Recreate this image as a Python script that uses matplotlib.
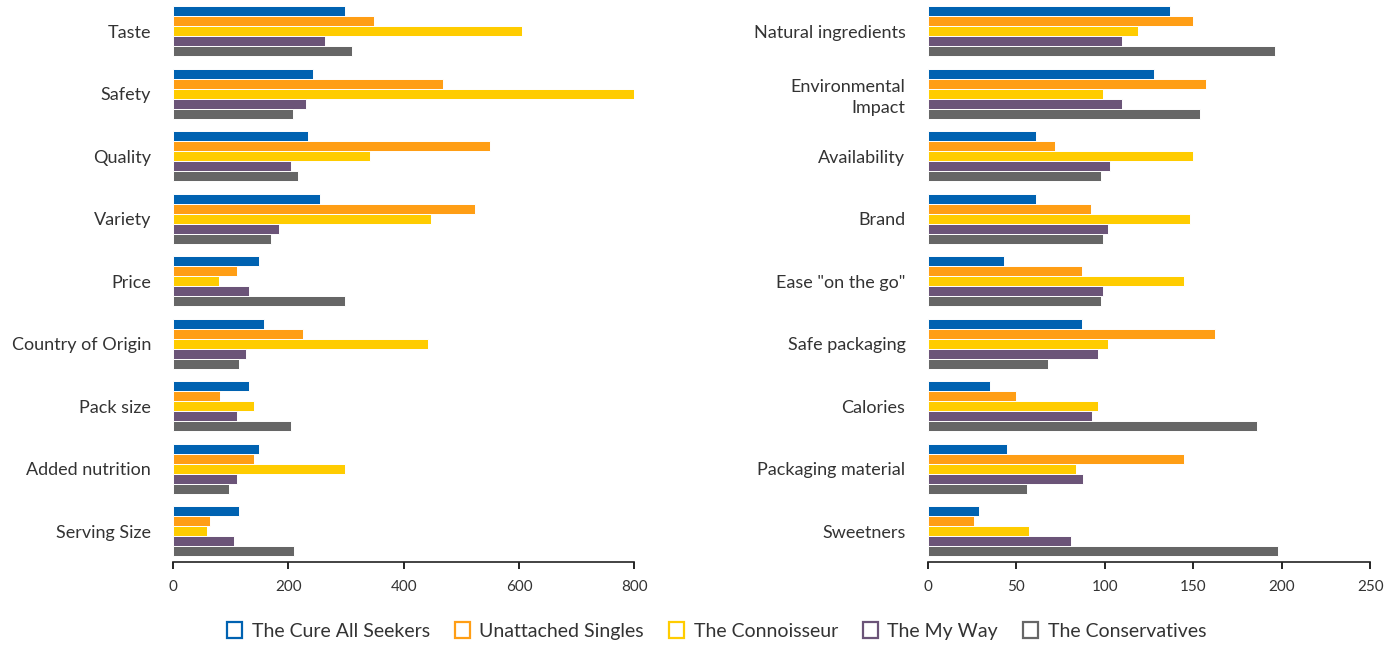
import matplotlib

matplotlib.use("Agg")
import matplotlib.pyplot as plt
import numpy as np
from matplotlib.patches import Patch

plt.rcParams["font.family"] = ["Lato", "DejaVu Sans"]

SERIES = ["The Cure All Seekers", "Unattached Singles", "The Connoisseur", "The My Way", "The Conservatives"]
COLORS = ["#0062B1", "#FF9E15", "#FFCC00", "#6B5478", "#666666"]

left_categories = ["Taste", "Safety", "Quality", "Variety", "Price", "Country of Origin",
                   "Pack size", "Added nutrition", "Serving Size"]
left_cure = [298, 243, 234, 255, 149, 157, 132, 149, 115]
left_singles = [349, 469, 549, 524, 111, 225, 81, 140, 64]
left_conn = [605, 800, 341, 447, 80, 442, 141, 298, 59]
left_myway = [263, 230, 205, 183, 132, 127, 111, 111, 106]
left_cons = [311, 208, 217, 170, 298, 115, 205, 97, 209]

right_categories = ["Natural ingredients", "Environmental\nImpact", "Availability", "Brand",
                    "Ease \"on the go\"", "Safe packaging", "Calories", "Packaging material", "Sweetners"]
right_cure = [137, 128, 61, 61, 43, 87, 35, 45, 29]
right_singles = [150, 157, 72, 92, 87, 162, 50, 145, 26]
right_conn = [119, 99, 150, 148, 145, 102, 96, 84, 57]
right_myway = [110, 110, 103, 102, 99, 96, 93, 88, 81]
right_cons = [196, 154, 98, 99, 98, 68, 186, 56, 198]


def draw_panel(ax, categories, series_values, xmax, step):
    n = len(categories)
    y = np.arange(n)
    bar_h = 0.16
    for i, (vals, color) in enumerate(zip(series_values, COLORS)):
        offset = (i - 2) * bar_h
        ax.barh(y + offset, vals, height=bar_h, color=color, edgecolor="white", linewidth=0.7)
    ax.set_yticks(y)
    ax.set_yticklabels(categories, fontsize=13, color="#333333", linespacing=1.35)
    ax.set_ylim(n - 0.5, -0.5)
    ax.set_xlim(0, xmax)
    ax.set_xticks(np.arange(0, xmax + 1, step))
    ax.tick_params(axis="x", direction="out", length=5, width=1.2, labelsize=11, labelcolor="#333333", pad=8)
    ax.tick_params(axis="y", length=0, pad=16)
    for side in ("top", "right", "left"):
        ax.spines[side].set_visible(False)
    ax.spines["bottom"].set_linewidth(1.2)
    ax.spines["bottom"].set_color("#222222")


fig = plt.figure(figsize=(13.97, 6.45), dpi=100)
ax1 = fig.add_axes([0.124, 0.128, 0.330, 0.872])
ax2 = fig.add_axes([0.664, 0.128, 0.317, 0.872])

draw_panel(ax1, left_categories, [left_cure, left_singles, left_conn, left_myway, left_cons], 800, 200)
draw_panel(ax2, right_categories, [right_cure, right_singles, right_conn, right_myway, right_cons], 250, 50)

handles = [Patch(facecolor="white", edgecolor=c, linewidth=1.6, label=s) for s, c in zip(SERIES, COLORS)]
fig.legend(handles=handles, loc="center", bbox_to_anchor=(0.513, 0.022), ncol=5, frameon=False,
           fontsize=14, handlelength=0.75, handleheight=0.9, handletextpad=0.5, columnspacing=1.3,
           labelcolor="#333333")

fig.savefig("out.png", dpi=100)
plt.close(fig)
